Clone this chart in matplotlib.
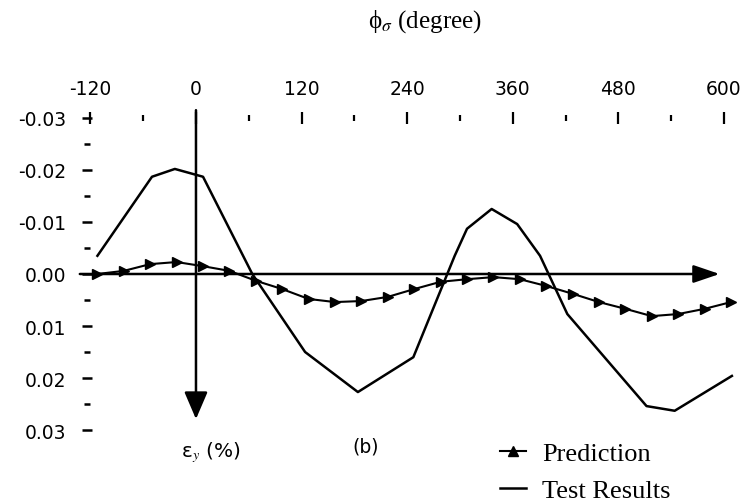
import matplotlib
matplotlib.use("Agg")
import matplotlib.pyplot as plt
from matplotlib.lines import Line2D
from matplotlib.ticker import MultipleLocator

plt.rcParams['mathtext.fontset'] = 'stix'

# stress angle (degree) and strain (%)
test_phi = [-112, -50, -24, 8, 64, 124, 184, 247, 294, 308, 336, 365, 391, 422, 512, 544, 609]
test_eps = [-0.0035, -0.0187, -0.0202, -0.0187, 0.0, 0.0150, 0.0227, 0.0160, -0.0035,
            -0.0087, -0.0125, -0.0096, -0.0035, 0.0077, 0.0254, 0.0263, 0.0196]

# model prediction, every 30 degrees
pred_phi = [-112, -82, -52, -22, 8, 38, 68, 98, 128, 158, 188, 218, 248, 278, 308,
            338, 368, 398, 428, 458, 488, 518, 548, 578, 608]
pred_eps = [0.0, -0.0006, -0.0019, -0.0023, -0.0015, -0.0006, 0.0013, 0.0029, 0.0048,
            0.0054, 0.0052, 0.0044, 0.0029, 0.0015, 0.0010, 0.0006, 0.0010, 0.0023,
            0.0038, 0.0054, 0.0067, 0.0081, 0.0077, 0.0067, 0.0054]

x_ticks = [-120, 0, 120, 240, 360, 480, 600]
y_ticks = [-0.03, -0.02, -0.01, 0.0, 0.01, 0.02, 0.03]
y_labels = ['-0.03', '-0.02', '-0.01', '0.00', '0.01', '0.02', '0.03']

fig = plt.figure(figsize=(7.52, 5.02), dpi=100)
ax = fig.add_axes([80 / 752, 1 - 445 / 502, 665 / 752, 345 / 502])
ax.set_xlim(-131.8, 623.9)
ax.set_ylim(0.03269, -0.03365)

# axes drawn as arrows through the origin
ax.annotate('', xy=(595, 0), xytext=(-132, 0),
            arrowprops=dict(arrowstyle='-|>,head_length=1.0,head_width=0.34',
                            mutation_scale=16, lw=1.8, color='black',
                            shrinkA=0, shrinkB=0))
ax.annotate('', xy=(0, 0.0279), xytext=(0, -0.0315),
            arrowprops=dict(arrowstyle='-|>,head_length=1.05,head_width=0.45',
                            mutation_scale=16, lw=1.8, color='black',
                            shrinkA=0, shrinkB=0))

ax.plot(test_phi, test_eps, color='black', lw=1.8)
ax.plot(pred_phi, pred_eps, color='black', lw=1.5, marker='>', ms=6.5)

for s in ['bottom', 'right']:
    ax.spines[s].set_visible(False)
ax.spines['top'].set_position(('data', -0.03))
ax.spines['top'].set_color('none')
ax.spines['left'].set_position(('data', -124))
ax.spines['left'].set_color('none')

ax.xaxis.set_ticks_position('top')
ax.set_xticks(x_ticks)
ax.set_xticklabels([str(v) for v in x_ticks])
ax.xaxis.set_minor_locator(MultipleLocator(60))
ax.set_yticks(y_ticks)
ax.set_yticklabels(y_labels)
ax.yaxis.set_minor_locator(MultipleLocator(0.005))

ax.tick_params(axis='x', which='major', direction='inout', length=9, width=1.6,
               pad=10, labelsize=13.5)
ax.tick_params(axis='x', which='minor', direction='inout', length=4, width=1.6)
ax.tick_params(axis='y', which='major', direction='inout', length=7.5, width=1.8,
               pad=11, labelsize=13.5)
ax.tick_params(axis='y', which='minor', direction='inout', length=5, width=1.8)

fig.text(425 / 752, 1 - 22 / 502, 'ϕ$_σ$ (degree)', ha='center', va='center',
         fontsize=18, family='Liberation Serif')
fig.text(211 / 752, 1 - 453 / 502, 'ε$_y$ (%)', ha='center', va='center',
         fontsize=14.5, family='DejaVu Sans')
fig.text(366 / 752, 1 - 447 / 502, '(b)', ha='center', va='center', fontsize=13.5,
         family='DejaVu Sans')

handles = [Line2D([], [], color='black', lw=1.5, marker='^', ms=7),
           Line2D([], [], color='black', lw=1.8)]
fig.legend(handles, ['Prediction', 'Test Results'], loc='upper left',
           bbox_to_anchor=(500 / 752, 1 - 443 / 502), frameon=False,
           prop={'family': 'Liberation Serif', 'size': 19}, handlelength=1.0,
           handletextpad=0.6, labelspacing=0.5, borderpad=0, borderaxespad=0)

fig.savefig('out.png', dpi=100, facecolor='white')
